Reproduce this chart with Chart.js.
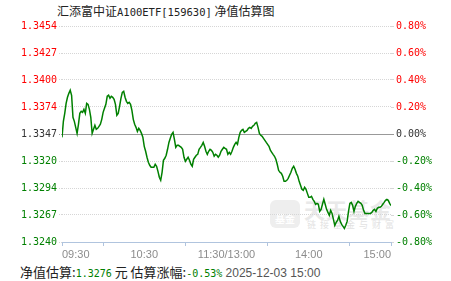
<!DOCTYPE html>
<html>
<head>
<meta charset="utf-8">
<script src="https://cdn.jsdelivr.net/npm/chart.js@4"></script>
<style>
    body { margin: 0; background: #fff; }
    #wrap { position: relative; width: 451px; height: 281px; overflow: hidden; }
    #chart { position: absolute; left: 0; top: 0; z-index: 2; }
    .cjk { font-family: "Noto Sans CJK SC", sans-serif; }
    .mono { font-family: "DejaVu Sans Mono", monospace; font-size: 10px; }
    #title { position: absolute; left: 57px; top: 3px; font-size: 12px; line-height: 16px; color: #222; white-space: nowrap; }
    #title .mono { font-size: 10.5px; }
    #foot { position: absolute; left: 20px; top: 263px; font-size: 13px; line-height: 17px; color: #222; white-space: nowrap; }
    .green { color: #008000; }
    .date { font-family: "Liberation Sans", Arial, sans-serif; font-size: 12px; color: #555; }
    #mark { position: absolute; left: 270px; top: 198px; z-index: 1; color: #e9e9e9; white-space: nowrap; }
    #mark .logo { position: absolute; left: 0; top: 2px; width: 30px; height: 28px; border-radius: 6px; background: #eeeeee; color: #fff; font-size: 10px; line-height: 12px; text-align: center; }
    #mark .logo b { display: block; margin-top: 13px; font-weight: bold; }
    #mark .big { position: absolute; left: 34px; top: -4px; font-size: 21px; font-weight: bold; letter-spacing: 1px; }
    #mark .small { position: absolute; left: 37px; top: 20px; font-size: 9px; letter-spacing: 4px; color: #e2e2e2; }
</style>
</head>
<body>
<div id="wrap">
    <div id="mark" class="cjk"><div class="logo"><b>基金</b></div><div class="big">天天基金</div><div class="small">链接基金与财富</div></div>
    <canvas id="chart" width="451" height="281"></canvas>
    <div id="title"><span class="cjk">汇添富中证</span><span class="mono">A100ETF[159630]</span><span class="cjk"> 净值估算图</span></div>
    <div id="foot"><span class="cjk">净值估算:</span><span class="mono green" id="est-nav"></span><span class="cjk"> 元 估算涨幅:</span><span class="mono green" id="est-pct"></span> <span class="date" id="est-time"></span></div>
</div>
<script>
const prevNav = 1.3347;
const estTime = '2025-12-03 15:00';

// minute-by-minute estimated NAV, 09:30 .. 15:00
const navValues = [
    1.33437, 1.33595, 1.33674, 1.33773, 1.33833, 1.33872, 1.33902, 1.33853, 1.33635, 1.33595,
    1.33536, 1.33476, 1.33566, 1.33674, 1.33694, 1.33684, 1.33714, 1.33674, 1.33773, 1.33763,
    1.33714, 1.33635, 1.33476, 1.33516, 1.33556, 1.33516, 1.33526, 1.33546, 1.33566, 1.33615,
    1.33684, 1.33724, 1.33763, 1.33843, 1.33853, 1.33823, 1.33843, 1.33833, 1.33813, 1.33763,
    1.33655, 1.33674, 1.33744, 1.33823, 1.33882, 1.33892, 1.33833, 1.33793, 1.33773, 1.33783,
    1.33763, 1.33704, 1.33615, 1.33566, 1.33536, 1.33496, 1.33526, 1.33506, 1.33476, 1.33437,
    1.33348, 1.33299, 1.33240, 1.33190, 1.33161, 1.33141, 1.33141, 1.33141, 1.33171, 1.33151,
    1.33101, 1.33042, 1.33012, 1.33091, 1.33210, 1.33230, 1.33260, 1.33319, 1.33387, 1.33427,
    1.33467, 1.33486, 1.33417, 1.33338, 1.33358, 1.33358, 1.33348, 1.33338, 1.33319, 1.33240,
    1.33200, 1.33220, 1.33240, 1.33210, 1.33171, 1.33151, 1.33220, 1.33240, 1.33260, 1.33269,
    1.33319, 1.33338, 1.33358, 1.33387, 1.33348, 1.33299, 1.33269, 1.33299, 1.33319, 1.33309,
    1.33289, 1.33250, 1.33269, 1.33260, 1.33240, 1.33260, 1.33299, 1.33319, 1.33338, 1.33328,
    1.33319, 1.33269, 1.33289, 1.33269, 1.33299, 1.33338, 1.33368, 1.33387, 1.33368, 1.33437,
    1.33486, 1.33506, 1.33516, 1.33486, 1.33496, 1.33506, 1.33526, 1.33536, 1.33526, 1.33546,
    1.33556, 1.33576, 1.33585, 1.33536, 1.33476, 1.33457, 1.33447, 1.33427, 1.33407, 1.33387,
    1.33368, 1.33348, 1.33309, 1.33289, 1.33269, 1.33250, 1.33220, 1.33171, 1.33111, 1.33091,
    1.33081, 1.33052, 1.33002, 1.33002, 1.33012, 1.33032, 1.33062, 1.33091, 1.33131, 1.33151,
    1.33121, 1.33081, 1.33052, 1.33002, 1.32963, 1.32923, 1.32913, 1.32943, 1.32923, 1.32883,
    1.32844, 1.32844, 1.32854, 1.32824, 1.32804, 1.32775, 1.32784, 1.32775, 1.32705, 1.32725,
    1.32775, 1.32824, 1.32775, 1.32725, 1.32695, 1.32666, 1.32715, 1.32685, 1.32626, 1.32567,
    1.32596, 1.32616, 1.32656, 1.32606, 1.32576, 1.32557, 1.32537, 1.32567, 1.32606, 1.32705,
    1.32784, 1.32794, 1.32765, 1.32705, 1.32755, 1.32784, 1.32804, 1.32794, 1.32784, 1.32765,
    1.32715, 1.32685, 1.32685, 1.32685, 1.32685, 1.32685, 1.32695, 1.32715, 1.32725, 1.32705,
    1.32735, 1.32745, 1.32745, 1.32755, 1.32775, 1.32794, 1.32814, 1.32824, 1.32814, 1.32784,
    1.32762
];

const pctTicks = [-0.8, -0.6, -0.4, -0.2, 0, 0.2, 0.4, 0.6, 0.8];
const navLabels = ['1.3240', '1.3267', '1.3294', '1.3320', '1.3347', '1.3374', '1.3400', '1.3427', '1.3454'];
const pctLabels = ['-0.80%', '-0.60%', '-0.40%', '-0.20%', '0.00%', '0.20%', '0.40%', '0.60%', '0.80%'];

const timeTicks = [0, 30, 60, 90, 120, 150, 180, 210, 240];
const timeLabels = ['09:30', '', '10:30', '', '11:30/13:00', '', '14:00', '', '15:00'];
const timeMarks = [0, 30, 90, 150, 210, 240];

const RED = '#ff0000';
const GREEN = '#008000';
const AXIS = '#b0c4de';

function signColor(p) {
    if (p > 0) return RED;
    if (p < 0) return GREEN;
    return '#333';
}

const last = navValues[navValues.length - 1];
document.getElementById('est-nav').innerText = last.toFixed(4);
document.getElementById('est-pct').innerText = ((last / prevNav - 1) * 100).toFixed(2) + '%';
document.getElementById('est-time').innerText = estTime;

const tickFont = { family: 'DejaVu Sans Mono', size: 10 };

new Chart(document.getElementById('chart').getContext('2d'), {
    type: 'line',
    data: {
        datasets: [{
            data: navValues.map((v, i) => ({ x: i, y: v })),
            borderColor: GREEN,
            borderWidth: 1.5,
            pointRadius: 0,
            tension: 0,
            yAxisID: 'y'
        }]
    },
    options: {
        responsive: false,
        devicePixelRatio: 1,
        animation: false,
        layout: { padding: { top: 26, left: 0, right: 0, bottom: 0 } },
        plugins: {
            legend: { display: false },
            tooltip: { enabled: false },
            title: { display: false }
        },
        scales: {
            x: {
                type: 'linear',
                min: 0,
                max: 240,
                afterBuildTicks: (s) => { s.ticks = timeTicks.map(v => ({ value: v })); },
                afterFit: (s) => { s.height = 39; },
                border: { display: true, color: AXIS, width: 1 },
                grid: {
                    drawOnChartArea: false,
                    tickLength: 4,
                    tickColor: (ctx) => timeMarks.includes(ctx.tick.value) ? AXIS : 'rgba(0,0,0,0)'
                },
                ticks: {
                    autoSkip: false,
                    maxRotation: 0,
                    align: 'inner',
                    padding: 2,
                    color: '#8c8c8c',
                    font: { family: 'Liberation Sans', size: 11 },
                    callback: (v, i) => timeLabels[i]
                }
            },
            y: {
                position: 'left',
                min: prevNav * (1 - 0.008),
                max: prevNav * (1 + 0.008),
                afterBuildTicks: (s) => { s.ticks = pctTicks.map(p => ({ value: prevNav * (1 + p / 100) })); },
                afterFit: (s) => { s.width = 62; },
                border: {
                    display: false,
                    dash: (ctx) => pctTicks[ctx.index] === 0 ? [] : [1, 1]
                },
                grid: {
                    color: (ctx) => {
                        if (ctx.index === 0) return 'rgba(0,0,0,0)';
                        return pctTicks[ctx.index] === 0 ? '#999' : '#d6d6d6';
                    },
                    tickColor: (ctx) => pctTicks[ctx.index] === 0 ? '#999' : '#d6d6d6',
                    tickBorderDash: [1, 1],
                    tickLength: 3
                },
                ticks: {
                    padding: 2,
                    font: tickFont,
                    color: (ctx) => signColor(pctTicks[ctx.index]),
                    callback: (v, i) => navLabels[i]
                }
            },
            y1: {
                position: 'right',
                min: -0.8,
                max: 0.8,
                afterBuildTicks: (s) => { s.ticks = pctTicks.map(p => ({ value: p })); },
                afterFit: (s) => { s.width = 60; },
                border: { display: false },
                grid: {
                    drawOnChartArea: false,
                    tickColor: (ctx) => pctTicks[ctx.index] === 0 ? '#999' : '#d6d6d6',
                    tickLength: 3
                },
                ticks: {
                    padding: 2,
                    font: tickFont,
                    color: (ctx) => signColor(pctTicks[ctx.index]),
                    callback: (v, i) => pctLabels[i]
                }
            }
        }
    }
});
</script>
</body>
</html>
